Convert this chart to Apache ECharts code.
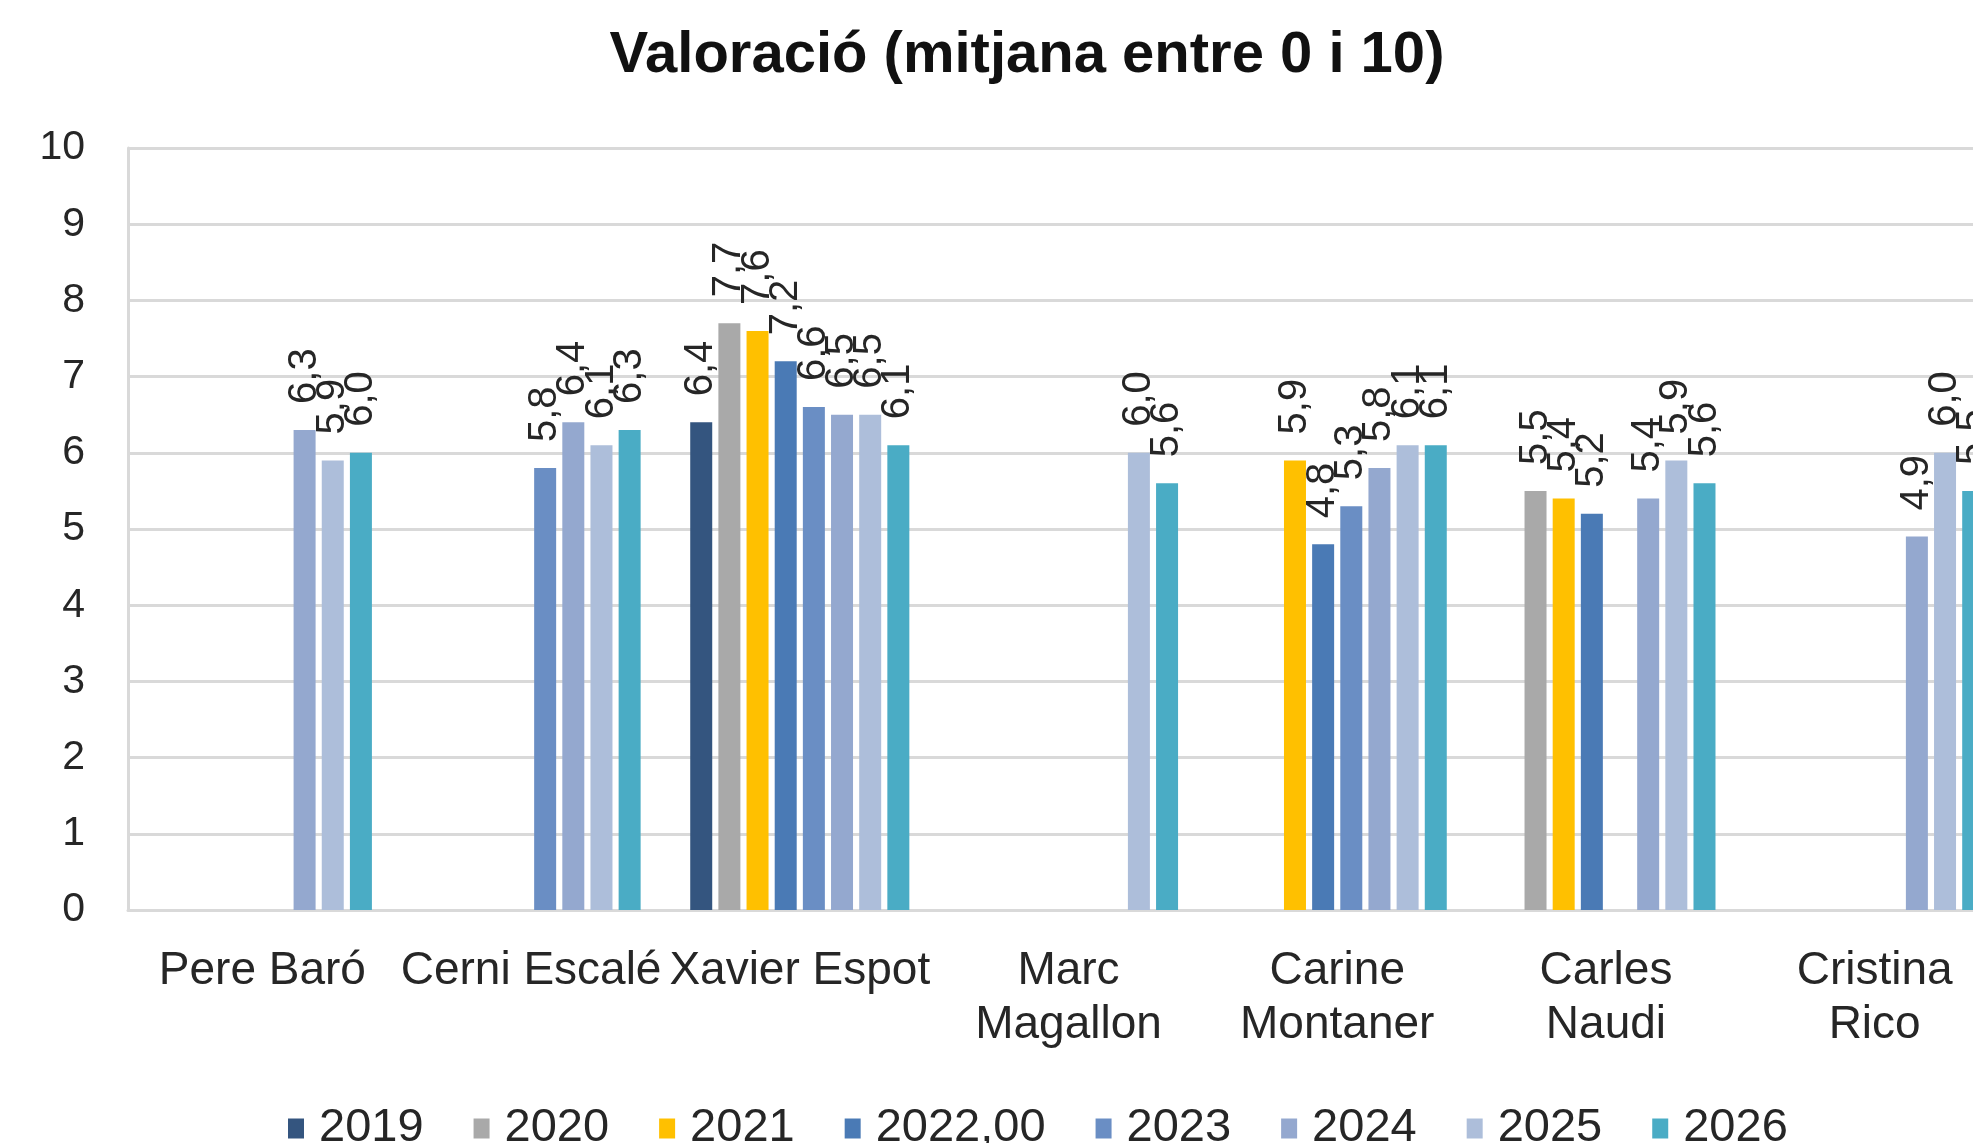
<!DOCTYPE html>
<html>
<head>
<meta charset="utf-8">
<script src="https://cdn.jsdelivr.net/npm/echarts@6/dist/echarts.min.js"></script>
<style>html,body{margin:0;padding:0;background:#fff;}#c{width:1973px;height:1143px;}</style>
</head>
<body>
<div id="c"></div>
<script>
const categories = ['Pere Baró', 'Cerni Escalé', 'Xavier Espot', 'Marc\nMagallon', 'Carine\nMontaner', 'Carles\nNaudi', 'Cristina\nRico'];
const seriesNames = ['2019', '2020', '2021', '2022,00', '2023', '2024', '2025', '2026'];
const v2019 = [null, null, 6.4, null, null, null, null];
const v2020 = [null, null, 7.7, null, null, 5.5, null];
const v2021 = [null, null, 7.6, null, 5.9, 5.4, null];
const v2022 = [null, null, 7.2, null, 4.8, 5.2, null];
const v2023 = [null, 5.8, 6.6, null, 5.3, null, null];
const v2024 = [6.3, 6.4, 6.5, null, 5.8, 5.4, 4.9];
const v2025 = [5.9, 6.1, 6.5, 6.0, 6.1, 5.9, 6.0];
const v2026 = [6.0, 6.3, 6.1, 5.6, 6.1, 5.6, 5.5];
const yTicks = [0, 1, 2, 3, 4, 5, 6, 7, 8, 9, 10];

const allValues = [v2019, v2020, v2021, v2022, v2023, v2024, v2025, v2026];
const colors = ['#34557F', '#A9A9A9', '#FFC000', '#4A7AB5', '#6A8EC4', '#94A8CF', '#ADBEDA', '#4AACC5'];
const FONT = 'Liberation Sans';
const TXT = '#262626';

const chart = echarts.init(document.getElementById('c'), null, {renderer: 'canvas'});
chart.setOption({
  animation: false,
  title: {
    text: 'Valoració (mitjana entre 0 i 10)',
    left: 1022, top: 22, textAlign: 'center',
    textStyle: {fontFamily: FONT, fontSize: 58, fontWeight: 'bold', color: '#111'}
  },
  grid: {left: 128, width: 1881, top: 148, height: 762, containLabel: false, outerBoundsMode: 'none'},
  legend: {
    data: seriesNames,
    left: 283, top: 1100,
    itemWidth: 16, itemHeight: 20, itemGap: 50,
    icon: 'rect',
    textStyle: {fontFamily: FONT, fontSize: 47, color: TXT, padding: [0, 0, 0, 10]}
  },
  xAxis: {
    type: 'category', data: categories,
    axisLine: {show: true, lineStyle: {color: '#D9D9D9', width: 3}},
    axisTick: {show: false},
    axisLabel: {fontFamily: FONT, fontSize: 46, color: TXT, margin: 34, lineHeight: 54, interval: 0}
  },
  yAxis: {
    type: 'value', min: yTicks[0], max: yTicks[yTicks.length - 1], interval: 1,
    axisLine: {show: true, lineStyle: {color: '#D9D9D9', width: 3}},
    axisTick: {show: false},
    splitLine: {lineStyle: {color: '#D9D9D9', width: 3}},
    axisLabel: {fontFamily: FONT, fontSize: 41, color: TXT, margin: 43}
  },
  series: seriesNames.map((n, i) => ({
    name: n, type: 'bar', data: allValues[i],
    barWidth: 22, barGap: '28%',
    itemStyle: {color: colors[i]},
    label: {
      show: true, position: 'top', rotate: 90, align: 'left', verticalAlign: 'middle',
      distance: 26, fontFamily: FONT, fontSize: 40, color: TXT,
      formatter: p => p.value == null ? '' : Number(p.value).toFixed(1).replace('.', ',')
    }
  }))
});
</script>
</body>
</html>
